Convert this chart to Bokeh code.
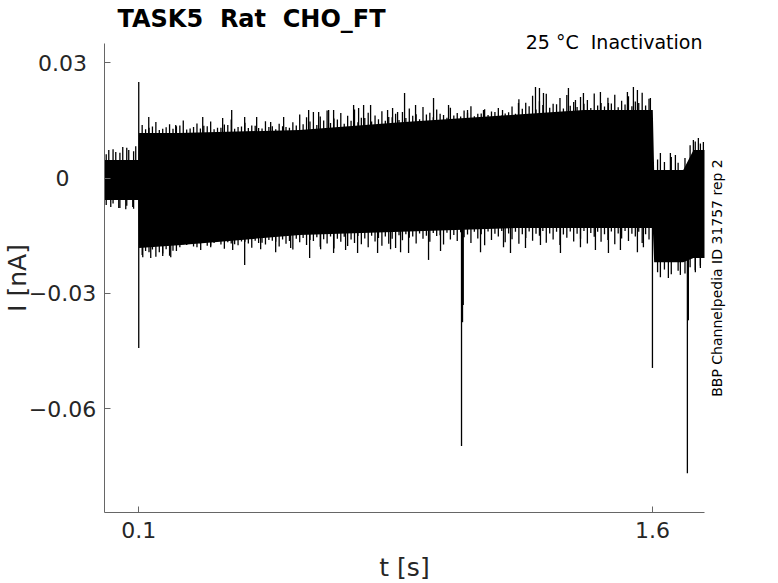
import math
from bokeh.plotting import figure
from bokeh.models import Range1d, FixedTicker, Label, CustomJSTickFormatter
from bokeh.embed import file_html
from bokeh.resources import INLINE

# ---- data (t in s, I in nA) ----
# dense body of the superimposed sweeps (base of the noise band)
band_t  = [0.0, 0.099, 0.101, 0.215, 0.570, 0.865, 1.206, 1.400, 1.601, 1.605, 1.690, 1.720, 1.752]
band_hi = [0.0047, 0.0047, 0.0117, 0.0117, 0.0125, 0.0145, 0.0165, 0.0177, 0.0177, 0.0021,
           0.0021, 0.0073, 0.0073]
band_lo = [-0.0057, -0.0057, -0.0182, -0.0175, -0.0148, -0.0140, -0.0130, -0.0130, -0.0130,
           -0.0219, -0.0219, -0.0208, -0.0208]

# noise comb along the upper edge (time, peak current)
comb_up_t = [0.005, 0.025, 0.045, 0.065, 0.085,
             0.11, 0.13, 0.15, 0.17, 0.19, 0.21, 0.23, 0.25, 0.27, 0.29, 0.31, 0.33,
             0.35, 0.37, 0.39, 0.41, 0.43, 0.45, 0.47, 0.49, 0.51, 0.53, 0.55,
             0.57, 0.59, 0.61, 0.63, 0.65, 0.67, 0.69, 0.71, 0.73, 0.75, 0.77, 0.79,
             0.81, 0.83, 0.85,
             0.87, 0.89, 0.91, 0.93, 0.95, 0.97, 0.99, 1.01, 1.03, 1.05, 1.07, 1.09,
             1.11, 1.13, 1.15, 1.17, 1.19,
             1.21, 1.23, 1.25, 1.27, 1.29, 1.31, 1.33, 1.35, 1.37, 1.39, 1.41, 1.43,
             1.45, 1.47, 1.49, 1.51, 1.53, 1.55, 1.57, 1.59,
             1.615, 1.635, 1.655, 1.675, 1.695, 1.71, 1.725, 1.74]
comb_up_v = [0.0062, 0.0075, 0.0066, 0.0079, 0.0070,
             0.0138, 0.0131, 0.0146, 0.0128, 0.0140, 0.0135, 0.0150, 0.0129, 0.0142, 0.0136,
             0.0147, 0.0131, 0.0139, 0.0152, 0.0133, 0.0144, 0.0137, 0.0130, 0.0148, 0.0135,
             0.0141, 0.0133, 0.0145,
             0.0165, 0.0158, 0.0172, 0.0160, 0.0176, 0.0155, 0.0169, 0.0162, 0.0178, 0.0157,
             0.0170, 0.0163, 0.0174, 0.0159, 0.0167,
             0.0172, 0.0181, 0.0166, 0.0185, 0.0170, 0.0178, 0.0164, 0.0183, 0.0169, 0.0176,
             0.0187, 0.0167, 0.0179, 0.0173, 0.0182, 0.0168, 0.0186,
             0.0205, 0.0196, 0.0214, 0.0200, 0.0219, 0.0193, 0.0208, 0.0216, 0.0198, 0.0211,
             0.0203, 0.0220, 0.0195, 0.0209, 0.0217, 0.0201, 0.0213, 0.0199, 0.0222, 0.0206,
             0.0048, 0.0042, 0.0055, 0.0040, 0.0052, 0.0085, 0.0095, 0.0090]

# finer, shorter excursions between them along the upper edge
fine_up_t = [0.12, 0.14, 0.16, 0.18, 0.20, 0.22, 0.24, 0.26, 0.28, 0.30, 0.32, 0.34, 0.36,
             0.38, 0.40, 0.42, 0.44, 0.46, 0.48, 0.50, 0.52, 0.54, 0.56,
             0.58, 0.60, 0.62, 0.64, 0.66, 0.68, 0.70, 0.72, 0.74, 0.76, 0.78, 0.80, 0.82,
             0.84, 0.86,
             0.88, 0.90, 0.92, 0.94, 0.96, 0.98, 1.00, 1.02, 1.04, 1.06, 1.08, 1.10, 1.12,
             1.14, 1.16, 1.18, 1.20,
             1.22, 1.24, 1.26, 1.28, 1.30, 1.32, 1.34, 1.36, 1.38, 1.40, 1.42, 1.44, 1.46,
             1.48, 1.50, 1.52, 1.54, 1.56, 1.58]
fine_up_v = [0.0127, 0.0134, 0.0125, 0.0132, 0.0128, 0.0137, 0.0126, 0.0133, 0.0129, 0.0135,
             0.0127, 0.0131, 0.0138, 0.0128, 0.0134, 0.0130, 0.0136, 0.0129, 0.0133, 0.0127,
             0.0135, 0.0131, 0.0137,
             0.0140, 0.0147, 0.0138, 0.0150, 0.0143, 0.0152, 0.0141, 0.0149, 0.0145, 0.0156,
             0.0147, 0.0153, 0.0149, 0.0158, 0.0151,
             0.0156, 0.0162, 0.0153, 0.0165, 0.0158, 0.0167, 0.0157, 0.0163, 0.0160, 0.0170,
             0.0161, 0.0168, 0.0164, 0.0172, 0.0163, 0.0171, 0.0167,
             0.0180, 0.0187, 0.0178, 0.0190, 0.0183, 0.0192, 0.0181, 0.0188, 0.0185, 0.0193,
             0.0182, 0.0189, 0.0186, 0.0194, 0.0184, 0.0191, 0.0187, 0.0195, 0.0189]

# noise comb along the lower edge (time, peak current)
comb_dn_t = [0.005, 0.025, 0.045, 0.065, 0.085,
             0.11, 0.13, 0.15, 0.17, 0.19, 0.21,
             0.23, 0.25, 0.27, 0.29, 0.31, 0.33, 0.35, 0.37, 0.39, 0.41, 0.43, 0.45, 0.47,
             0.49, 0.51, 0.53, 0.55, 0.57, 0.59, 0.61, 0.63, 0.65, 0.67, 0.69, 0.71, 0.73,
             0.75, 0.77, 0.79, 0.81, 0.83, 0.85,
             0.87, 0.89, 0.91, 0.93, 0.95, 0.97, 0.99, 1.01, 1.03, 1.05, 1.07, 1.09, 1.11,
             1.13, 1.15, 1.17, 1.19, 1.21, 1.23, 1.25, 1.27, 1.29, 1.31, 1.33, 1.35, 1.37,
             1.39, 1.41, 1.43, 1.45, 1.47, 1.49, 1.51, 1.53, 1.55, 1.57, 1.59,
             1.615, 1.635, 1.655, 1.675, 1.695, 1.71, 1.725, 1.74]
comb_dn_v = [-0.0070, -0.0066, -0.0078, -0.0072, -0.0080,
             -0.0200, -0.0193, -0.0205, -0.0196, -0.0202, -0.0190,
             -0.0172, -0.0165, -0.0180, -0.0168, -0.0176, -0.0162, -0.0184, -0.0170, -0.0175,
             -0.0166, -0.0181, -0.0169, -0.0173, -0.0163, -0.0178, -0.0171, -0.0186, -0.0167,
             -0.0174, -0.0164, -0.0179, -0.0170, -0.0183, -0.0166, -0.0177, -0.0169, -0.0172,
             -0.0180, -0.0165, -0.0176, -0.0171, -0.0182,
             -0.0162, -0.0155, -0.0170, -0.0158, -0.0166, -0.0151, -0.0173, -0.0160, -0.0164,
             -0.0154, -0.0169, -0.0157, -0.0175, -0.0161, -0.0152, -0.0167, -0.0159, -0.0171,
             -0.0156, -0.0163, -0.0150, -0.0168, -0.0160, -0.0174, -0.0155, -0.0165, -0.0158,
             -0.0170, -0.0153, -0.0166, -0.0161, -0.0172, -0.0157, -0.0164, -0.0152, -0.0169,
             -0.0160,
             -0.0245, -0.0238, -0.0250, -0.0241, -0.0248, -0.0232, -0.0240, -0.0228]

# finer, shorter excursions between them along the lower edge
fine_dn_t = fine_up_t
fine_dn_v = [-0.0190, -0.0186, -0.0193, -0.0185, -0.0189,
             -0.0180, -0.0174, -0.0178, -0.0171, -0.0176, -0.0169, -0.0173, -0.0167, -0.0172,
             -0.0165, -0.0170, -0.0163, -0.0168, -0.0161, -0.0166, -0.0160, -0.0164, -0.0158,
             -0.0156, -0.0161, -0.0154, -0.0159, -0.0152, -0.0158, -0.0153, -0.0160, -0.0151,
             -0.0157, -0.0150, -0.0156, -0.0152, -0.0158, -0.0149,
             -0.0146, -0.0152, -0.0144, -0.0150, -0.0143, -0.0149, -0.0142, -0.0148, -0.0141,
             -0.0147, -0.0140, -0.0146, -0.0139, -0.0145, -0.0138, -0.0144, -0.0140, -0.0146,
             -0.0139, -0.0145, -0.0138, -0.0144, -0.0140, -0.0147, -0.0139, -0.0145, -0.0138,
             -0.0143, -0.0140, -0.0146, -0.0139, -0.0144, -0.0138, -0.0145, -0.0140, -0.0146]

# taller upward excursions (time, peak current)
up_t = [0.0125, 0.0329, 0.0533, 0.0708, 0.0912, 0.100, 0.1292, 0.208, 0.2868, 0.345,
        0.3714, 0.4093, 0.4443, 0.4852, 0.5231, 0.5961, 0.6253, 0.6545, 0.669, 0.7274,
        0.742, 0.7566, 0.777, 0.8266, 0.8412, 0.8558, 0.8762, 0.9083, 0.9608, 1.0046,
        1.060, 1.1067, 1.1622, 1.2088, 1.2585, 1.2701, 1.2818, 1.3547, 1.3752, 1.3985,
        1.4481, 1.4715, 1.5269, 1.5444, 1.5561, 1.594, 1.6232, 1.6524, 1.667, 1.7195,
        1.7341, 1.7487]
up_v = [0.0073, 0.0068, 0.0081, 0.0073, 0.0083, 0.0250, 0.0159, 0.0138, 0.0159, 0.0156,
        0.0177, 0.0159, 0.0159, 0.0146, 0.0159, 0.0177, 0.0172, 0.0177, 0.0177, 0.0190,
        0.0182, 0.0190, 0.0190, 0.0177, 0.0182, 0.0172, 0.0221, 0.0190, 0.0208, 0.0190,
        0.0177, 0.0177, 0.0177, 0.0195, 0.0237, 0.0234, 0.0221, 0.0234, 0.0203, 0.0221,
        0.0224, 0.0195, 0.0224, 0.0237, 0.0229, 0.0208, 0.0065, 0.0065, 0.0060, 0.0099,
        0.0104, 0.0094]

# deeper downward excursions and capacitive transients (time, peak current)
dn_t = [0.0183, 0.0416, 0.0621, 0.0825, 0.100, 0.1117, 0.135, 0.170, 0.1934, 0.2809,
        0.3101, 0.3743, 0.4093, 0.456, 0.4998, 0.5436, 0.599, 0.6311, 0.669, 0.704,
        0.739, 0.7974, 0.8353, 0.8645, 0.8879, 0.9462, 0.9812, 1.0425, 1.0454, 1.0475,
        1.098, 1.1651, 1.1855, 1.2293, 1.273, 1.3314, 1.3898, 1.4335, 1.4715, 1.5065,
        1.5561, 1.5736, 1.600, 1.6232, 1.6465, 1.6815, 1.702, 1.7049, 1.7253, 1.7399]
dn_v = [-0.0075, -0.0078, -0.0081, -0.0075, -0.0442, -0.0206, -0.0208, -0.0203, -0.0206, -0.0187,
        -0.0180, -0.0187, -0.0226, -0.0185, -0.0193, -0.0182, -0.0208, -0.0185, -0.0195, -0.0187,
        -0.0195, -0.0195, -0.0185, -0.0193, -0.0195, -0.0213, -0.0190, -0.0697, -0.0375, -0.0330,
        -0.0193, -0.0180, -0.0195, -0.0182, -0.0174, -0.0195, -0.0180, -0.0187, -0.0195, -0.0187,
        -0.0193, -0.0180, -0.0494, -0.0258, -0.0260, -0.0252, -0.0768, -0.0370, -0.0245, -0.0234]

x_ticks = [0.1, 1.6]
y_ticks = [-0.06, -0.03, 0.0, 0.03]
y_tick_labels = ["\u22120.06", "\u22120.03", "0", "0.03"]

# axes extent
X0, X1 = 0.0, 1.752
Y0, Y1 = -0.087, 0.035

# ---- layout (pixels) ----
W, H = 778, 583
LEFT, RIGHT, TOP, BOTTOM = 104, 74, 43, 71
kx = (W - LEFT - RIGHT) / (X1 - X0)
ky = (H - TOP - BOTTOM) / (Y1 - Y0)

FONT = "DejaVu Sans"
TXT = "#262626"
AX = "#666666"
SP2 = "\u00a0 "  # double space kept visible in SVG text

p = figure(width=W, height=H, output_backend="svg", toolbar_location=None,
           x_range=Range1d(X0 - LEFT / kx, X1 + RIGHT / kx),
           y_range=Range1d(Y0 - BOTTOM / ky, Y1 + TOP / ky),
           min_border=0)
p.title.text = ""
p.outline_line_color = None
p.grid.visible = False
p.background_fill_color = "white"
p.border_fill_color = "white"

# body of traces
p.varea(x=band_t, y1=band_lo, y2=band_hi, fill_color="black")
# noise excursions
for ts, vs in ((comb_up_t, comb_up_v), (fine_up_t, fine_up_v),
               (comb_dn_t, comb_dn_v), (fine_dn_t, fine_dn_v),
               (up_t, up_v), (dn_t, dn_v)):
    p.segment(x0=ts, y0=[0.0] * len(ts), x1=ts, y1=vs, line_color="black", line_width=1.3)

# axes drawn at fixed data positions
p.xaxis.fixed_location = Y0
p.xaxis.bounds = (X0, X1)
p.yaxis.fixed_location = X0
p.yaxis.bounds = (Y0, Y1)
for ax in (p.xaxis[0], p.yaxis[0]):
    ax.axis_line_color = AX
    ax.axis_line_width = 1
    ax.major_tick_line_color = AX
    ax.major_tick_in = 6
    ax.major_tick_out = 0
    ax.minor_tick_line_color = None
    ax.major_label_text_font = FONT
    ax.major_label_text_font_size = "22px"
    ax.major_label_text_color = TXT

p.xaxis.ticker = FixedTicker(ticks=x_ticks)
p.xaxis.major_label_standoff = 9
p.yaxis.ticker = FixedTicker(ticks=y_ticks)
p.yaxis.formatter = CustomJSTickFormatter(code="return ''")

for v, s in zip(y_ticks, y_tick_labels):
    p.add_layout(Label(x=X0, y=v, x_offset=-42, text=s, text_align="center",
                       text_baseline="middle", text_font=FONT, text_font_size="22px",
                       text_color=TXT))

# axis titles
p.add_layout(Label(x=X0, y=(Y0 + Y1) / 2, x_offset=-87, text="I [nA]", angle=math.pi / 2,
                   text_align="center", text_baseline="middle", text_font=FONT,
                   text_font_size="25px", text_color=TXT))
p.add_layout(Label(x=(X0 + X1) / 2, y=Y0, y_offset=-55, text="t [s]",
                   text_align="center", text_baseline="middle", text_font=FONT,
                   text_font_size="25px", text_color=TXT))

# title and annotations
p.add_layout(Label(x=X0, y=Y1, x_offset=13, y_offset=25,
                   text="TASK5" + SP2 + "Rat" + SP2 + "CHO_FT",
                   text_align="left", text_baseline="middle", text_font=FONT,
                   text_font_style="bold", text_font_size="24px", text_color="black"))
p.add_layout(Label(x=X1, y=Y1, x_offset=-2, y_offset=2, text="25 °C" + SP2 + "Inactivation",
                   text_align="right", text_baseline="middle", text_font=FONT,
                   text_font_size="19px", text_color="black"))
p.add_layout(Label(x=X1, y=(Y0 + Y1) / 2, x_offset=12, text="BBP Channelpedia ID 31757 rep 2",
                   angle=math.pi / 2, text_align="center", text_baseline="middle",
                   text_font=FONT, text_font_size="14px", text_color="black"))

open("out.html", "w").write(file_html(p, INLINE))
